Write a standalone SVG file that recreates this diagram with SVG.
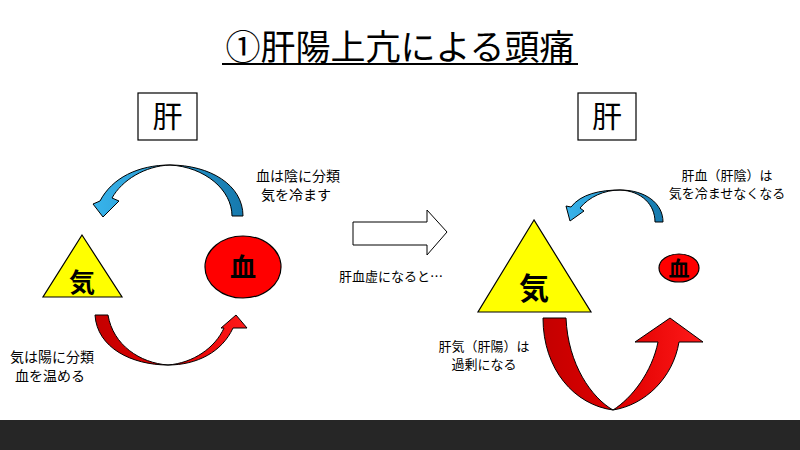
<svg xmlns="http://www.w3.org/2000/svg" width="800" height="450" viewBox="0 0 800 450">
<defs>
<linearGradient id="blueG" x1="0" y1="0" x2="1" y2="0">
<stop offset="0" stop-color="#38b4ec"/>
<stop offset="1" stop-color="#1679ad"/>
</linearGradient>
<linearGradient id="redG" x1="0" y1="0" x2="1" y2="0">
<stop offset="0" stop-color="#c40000"/>
<stop offset="0.5" stop-color="#e00000"/>
<stop offset="1" stop-color="#ff1a1a"/>
</linearGradient>
<style>
text{font-family:"Noto Sans CJK JP","Noto Sans",sans-serif;fill:#000;}
.lbl{font-size:14px;text-anchor:middle;}
.lbl2{font-size:13px;text-anchor:middle;}
.box{fill:#fff;stroke:#000;stroke-width:1.2;}
.kan{font-size:30px;text-anchor:middle;}
.tri{fill:#ffff00;stroke:#000;stroke-width:1.2;}
.ell{fill:#ff0000;stroke:#000;stroke-width:1.2;}
.big{font-weight:bold;text-anchor:middle;}
.blue{fill:url(#blueG);stroke:#000;stroke-width:1;}
.red{fill:url(#redG);stroke:#000;stroke-width:1;}
</style>
</defs>
<rect x="0" y="0" width="800" height="450" fill="#fff"/>
<rect x="0" y="420" width="800" height="30" fill="#262626"/>

<g id="title">
<text x="400" y="60" style="font-size:35px;text-anchor:middle;">①肝陽上亢による頭痛</text>
<line x1="222" y1="64" x2="578" y2="64" stroke="#000" stroke-width="2"/>
</g>

<g id="liver-left">
<rect class="box" x="138" y="93" width="59" height="47"/>
<text class="kan" x="167.5" y="127">肝</text>
</g>
<g id="liver-right">
<rect class="box" x="578" y="93" width="58" height="47"/>
<text class="kan" x="607" y="127">肝</text>
</g>

<g id="qi-left">
<polygon class="tri" points="82,235 43,297 122,297"/>
<text class="big" x="82" y="292" style="font-size:26px;">気</text>
</g>
<g id="blood-left">
<ellipse class="ell" cx="243" cy="267" rx="38" ry="31"/>
<text class="big" x="243" y="277" style="font-size:26px;">血</text>
</g>
<g id="qi-right">
<polygon class="tri" points="534,220 478,312 591,312"/>
<text class="big" x="534" y="299" style="font-size:30px;">気</text>
</g>
<g id="blood-right">
<ellipse class="ell" cx="679" cy="268" rx="20" ry="14"/>
<text class="big" x="679" y="276" style="font-size:21px;">血</text>
</g>

<g id="label-left-top">
<text class="lbl" x="298" y="181">血は陰に分類</text>
<text class="lbl" x="296" y="200">気を冷ます</text>
</g>
<g id="label-left-bottom">
<text class="lbl" x="52" y="362">気は陽に分類</text>
<text class="lbl" x="50" y="381">血を温める</text>
</g>
<g id="label-middle">
<text class="lbl2" x="391" y="281">肝血虚になると…</text>
</g>
<g id="label-right-top">
<text class="lbl2" x="727" y="180">肝血（肝陰）は</text>
<text class="lbl2" x="727" y="198">気を冷ませなくなる</text>
</g>
<g id="label-right-bottom">
<text class="lbl2" x="484" y="351">肝気（肝陽）は</text>
<text class="lbl2" x="484" y="369">過剰になる</text>
</g>

<g id="connectors">
<path class="blue" d="M243,216 L232,216 C232,190 205,167 170,165 C145,166 122,180 112,198 L119,201 L103,217 L93,204 L100,201 C112,178 138,165 170,165 C210,165 243,185 243,216 Z"/>
<path class="red" d="M95,315 L108,315 C113,345 140,363 168,365 C193,363 215,348 224,328 L221,328 L236,315 L247,328 L233,328 C222,352 197,365 168,365 C132,365 97,348 95,315 Z"/>
<path d="M353,222 L427,222 L427,210 L447,232 L427,255 L427,245 L353,245 Z" fill="#fff" stroke="#000" stroke-width="1"/>
<path class="blue" d="M663,222 L655,222 C655,205 642,191 620,190 C604,190 589,197 580,208 L584,211 L570,221 L566,206 L571,207 C581,194 600,190 620,190 C645,190 663,203 663,222 Z"/>
<path class="red" d="M543,318 L566,318 C568,365 592,398 613,410 C632,398 652,372 658,342 L635,342 L670,318 L703,342 L679,342 C673,378 645,405 613,410 C575,405 543,370 543,318 Z"/>
</g>
</svg>
